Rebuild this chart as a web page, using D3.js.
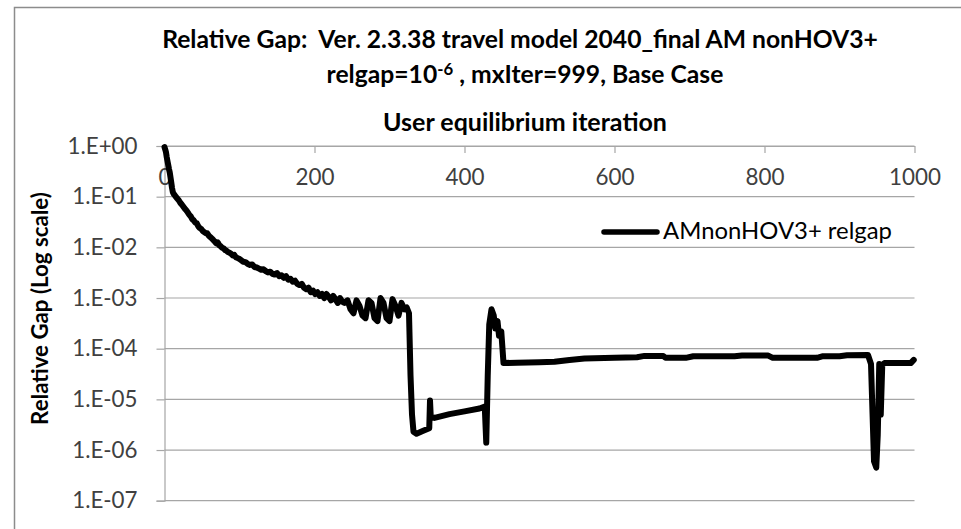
<!DOCTYPE html>
<html><head><meta charset="utf-8">
<script src="https://cdn.jsdelivr.net/npm/d3@7"></script>
<style>
html,body{margin:0;padding:0;background:#fff;}
svg{display:block;font-family:Lato,"Open Sans",sans-serif;}
text{white-space:pre;}
</style></head>
<body><svg id="chart" width="961" height="529"></svg>
<script>
// ---- data ----
const iterations = [0,1,2,3,4,5,6,7,8,9,10,11,12,13,15,17,19,21,23,25,27,29,31,33,35,37,39,41,43,45,47,49,51,53,55,57,59,61,63,65,67,69,71,73,75,77,79,81,83,85,87,89,91,93,95,97,99,102,105,108,111,114,117,120,123,126,129,132,135,138,141,144,147,150,153,156,159,162,165,168,171,174,177,180,183,186,189,192,195,198,201,204,207,210,213,216,219,222,225,228,231,234,237,240,244,248,252,256,260,264,268,272,276,280,284,288,292,296,300,304,308,312,316,320,323,326,328,330,332,336,345,353,354,355,360,380,400,420,427,429,431,433,436,439,441,444,446,449,452,470,500,520,540,560,600,630,640,665,668,695,705,760,770,805,811,870,878,900,910,938,942,946,949,951,953,955,957,960,995,999];
const relgap = [0.95,0.85,0.75,0.6,0.5,0.42,0.35,0.3,0.24,0.19,0.15,0.125,0.115,0.11,0.1,0.092,0.085,0.076,0.07,0.064,0.058,0.054,0.049,0.044,0.041,0.036,0.034,0.031,0.03,0.026,0.024,0.023,0.021,0.02,0.019,0.019,0.017,0.016,0.015,0.014,0.013,0.012,0.0125,0.011,0.0105,0.0098,0.0095,0.0088,0.0085,0.008,0.0078,0.0074,0.0069,0.0071,0.0064,0.0062,0.006,0.0056,0.0052,0.0051,0.0047,0.0045,0.0046,0.0041,0.0040,0.0038,0.0036,0.0037,0.0034,0.0032,0.0033,0.003,0.0029,0.0031,0.0027,0.0028,0.0025,0.0027,0.0023,0.0024,0.0021,0.0022,0.0019,0.0018,0.0019,0.0016,0.0015,0.0016,0.0013,0.0014,0.0012,0.0013,0.0011,0.0012,0.001,0.0012,0.00105,0.0009,0.0011,0.00095,0.0008,0.001,0.00085,0.0008,0.0009,0.0006,0.0005,0.0009,0.0007,0.00045,0.0004,0.0009,0.0008,0.0004,0.00035,0.001,0.0008,0.0004,0.00035,0.00095,0.0007,0.00045,0.0008,0.0006,0.00065,0.0005,0.00003,0.000005,0.0000023,0.0000021,0.0000024,0.0000027,0.0000095,0.0000045,0.0000043,0.0000051,0.0000058,0.0000066,0.0000072,0.0000014,0.00003,0.0003,0.0006,0.00045,0.00025,0.00035,0.00018,0.00022,0.000052,0.000053,0.000054,0.000055,0.000060,0.000064,0.000066,0.000068,0.000072,0.000072,0.000066,0.000066,0.000071,0.000071,0.000073,0.000073,0.000066,0.000066,0.000071,0.000071,0.000074,0.000075,0.00005,0.0000006,0.00000045,0.000002,0.00005,0.000005,0.000048,0.000052,0.000052,0.00006];
const xTicks = [0,200,400,600,800,1000];
const yTicks = [1,1e-1,1e-2,1e-3,1e-4,1e-5,1e-6,1e-7];
const yTickLabels = ["1.E+00","1.E-01","1.E-02","1.E-03","1.E-04","1.E-05","1.E-06","1.E-07"];
const seriesName = "AMnonHOV3+ relgap";
const titleLine1 = "Relative Gap:  Ver. 2.3.38 travel model 2040_final AM nonHOV3+";
const xTitle = "User equilibrium iteration";
const yTitle = "Relative Gap (Log scale)";

// ---- chart ----
const svg = d3.select("#chart");
const L = 164.5, R = 914.5, T = 146, B = 500.7;
const x = d3.scaleLinear().domain([0,1000]).range([L,R]);
const y = d3.scaleLog().domain([1,1e-7]).range([T,B]);
const gridColor = "#a6a6a6", textColor = "#404040";

function fit(sel, target){
  const w = sel.node().getComputedTextLength();
  const fs = parseFloat(sel.attr("font-size"));
  const nf = fs*target/w;
  sel.attr("font-size", nf);
  return nf;
}

// outer border
svg.append("rect").attr("x",14.5).attr("y",7.5).attr("width",1000).attr("height",600)
  .attr("fill","none").attr("stroke","#8c8c8c").attr("stroke-width",1.5);

// gridlines
svg.append("g").selectAll("line").data(yTicks).join("line")
  .attr("x1",L).attr("x2",R).attr("y1",d=>y(d)).attr("y2",d=>y(d))
  .attr("stroke",gridColor).attr("stroke-width",1.2);

// y axis
const yAxis = svg.append("g").attr("transform",`translate(${L},0)`)
  .call(d3.axisLeft(y).tickValues(yTicks).tickFormat((d,i)=>yTickLabels[i]).tickSize(8).tickPadding(19));
yAxis.select(".domain").attr("stroke",gridColor).attr("stroke-width",1.2);
yAxis.selectAll(".tick line").attr("stroke",gridColor).attr("stroke-width",1.2);
const yLab = yAxis.selectAll("text").attr("font-size",20).attr("fill",textColor).attr("font-family","Lato");
const yfs = fit(d3.select(yLab.nodes()[0]), 70);
yLab.attr("font-size", yfs);

// x axis (at top, ticks pointing down, labels below)
const xAxis = svg.append("g").attr("transform",`translate(0,${T})`)
  .call(d3.axisBottom(x).tickValues(xTicks).tickFormat(d3.format("d")).tickSize(7).tickPadding(17).tickSizeOuter(0));
xAxis.select(".domain").attr("stroke",gridColor).attr("stroke-width",1.2);
xAxis.selectAll(".tick line").attr("stroke",gridColor).attr("stroke-width",1.2);
const xLab = xAxis.selectAll("text").attr("font-size",20).attr("fill",textColor).attr("font-family","Lato");
const xfs = fit(d3.select(xLab.nodes()[xLab.size()-1]), 52);
xLab.attr("font-size", xfs).attr("dy","0.66em");

// series line
const pts = iterations.map((it,i)=>[it,relgap[i]]);
svg.append("path").datum(pts)
  .attr("d", d3.line().x(d=>x(d[0])).y(d=>y(d[1])))
  .attr("fill","none").attr("stroke","#000").attr("stroke-width",6)
  .attr("stroke-linejoin","round").attr("stroke-linecap","round");

// titles
const t1 = svg.append("text").attr("x",520).attr("y",48).attr("text-anchor","middle")
  .attr("font-weight","bold").attr("font-size",18).attr("fill","#000").text(titleLine1);
const tfs = fit(t1, 716);
const t2 = svg.append("text").attr("x",525).attr("y",83).attr("text-anchor","middle")
  .attr("font-weight","bold").attr("font-size",tfs).attr("fill","#000");
t2.append("tspan").text("relgap=10");
t2.append("tspan").attr("font-size",tfs*0.68).attr("dy",-8).text("-6");
t2.append("tspan").attr("dy",8).text(" , mxIter=999, Base Case");

const xt = svg.append("text").attr("x",525).attr("y",131).attr("text-anchor","middle")
  .attr("font-weight","bold").attr("font-size",18).attr("fill","#000").text(xTitle);
fit(xt, 284);

const yt = svg.append("text").attr("transform","translate(47.5,308.5) rotate(-90)").attr("text-anchor","middle")
  .attr("font-weight","bold").attr("font-size",18).attr("fill","#000").text(yTitle);
fit(yt, 233);

// legend
svg.append("line").attr("x1",604).attr("x2",657).attr("y1",232).attr("y2",232)
  .attr("stroke","#000").attr("stroke-width",5.5).attr("stroke-linecap","round");
const lt = svg.append("text").attr("x",663).attr("y",239).attr("font-size",20).attr("fill","#000").text(seriesName);
fit(lt, 229);
</script></body></html>
